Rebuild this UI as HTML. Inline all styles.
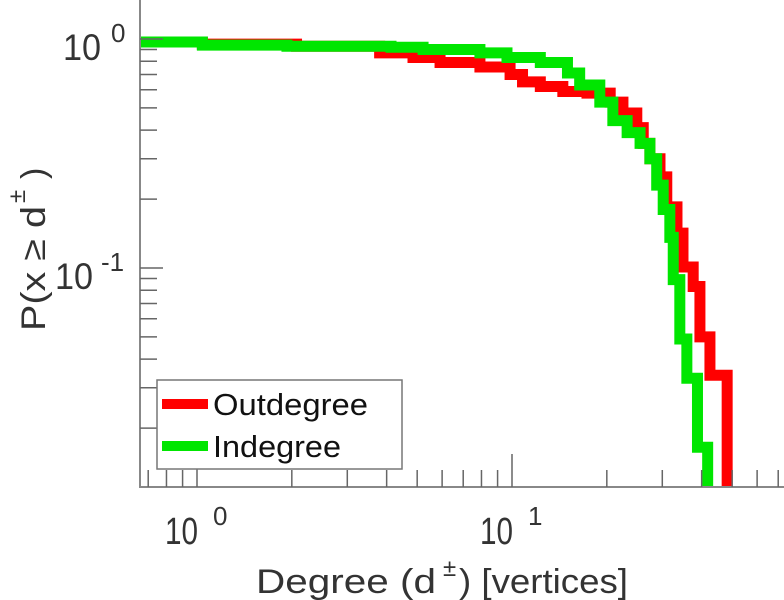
<!DOCTYPE html>
<html><head><meta charset="utf-8"><style>
html,body{margin:0;padding:0;background:#fff;}
svg{display:block;font-family:"Liberation Sans",sans-serif;}
</style></head><body>
<svg id="chart" width="784" height="600" viewBox="0 0 784 600">
<g id="plot"></g>
<g id="axes"></g>
<g id="legend">
  <rect x="157" y="380" width="245" height="89" fill="#fff" stroke="#777" stroke-width="1.5"/>
  <line x1="162" y1="404" x2="208" y2="404" stroke="#ff0000" stroke-width="10"/>
  <text x="213" y="415" font-size="31" textLength="155" lengthAdjust="spacingAndGlyphs" fill="#111">Outdegree</text>
  <line x1="162" y1="446" x2="208" y2="446" stroke="#00e600" stroke-width="10"/>
  <text x="213" y="457" font-size="31" textLength="128" lengthAdjust="spacingAndGlyphs" fill="#111">Indegree</text>
</g>
<g fill="#333">
  <text x="256" y="593" font-size="34" textLength="180" lengthAdjust="spacingAndGlyphs">Degree (d</text>
  <text x="443" y="576" font-size="24">±</text>
  <text x="459" y="593" font-size="34" textLength="169" lengthAdjust="spacingAndGlyphs">) [vertices]</text>
</g>
<g fill="#333" transform="translate(45,331) rotate(-90)">
  <text x="0" y="0" font-size="34" textLength="125" lengthAdjust="spacingAndGlyphs">P(x ≥ d</text>
  <text x="128" y="-20" font-size="24">±</text>
  <text x="152" y="0" font-size="34">)</text>
</g>
</svg>
<script>
// data
const outDegree = [0.66,1.04,2.07,3.8,4.85,5.91,7.91,9.86,10.8,12.3,14.5,17.3,20.5,22.5,24.9,26.1,27.4,29.5,31.0,33.4,34.9,37.6,39.5,42.5,48.2];
const outProb   = [0.97,0.95,0.93,0.87,0.83,0.79,0.755,0.70,0.65,0.62,0.59,0.58,0.53,0.475,0.41,0.35,0.30,0.25,0.185,0.142,0.101,0.083,0.050,0.034,0.005];
const inDegree  = [0.66,1.04,1.93,4.13,5.22,7.91,9.64,12.3,15.0,16.4,19.0,20.9,23.2,25.5,27.4,28.8,30.2,31.7,32.5,34.1,35.9,38.8,41.8];
const inProb    = [0.97,0.94,0.93,0.92,0.90,0.87,0.83,0.79,0.71,0.63,0.53,0.44,0.39,0.35,0.30,0.23,0.18,0.136,0.089,0.049,0.033,0.0165,0.005];
const xMajorTicks = [1,10];
const xMinorTicks = [0.7,0.8,0.9,2,3,4,5,6,7,8,9,20,30,40,50,60,70];
const yMajorTicks = [1,0.1];
const yMinorTicks = [0.9,0.8,0.7,0.6,0.5,0.4,0.3,0.2,0.09,0.08,0.07,0.06,0.05,0.04,0.03,0.02];

const L=140,R=784,T=0,B=487;
const sx = d => 197 + 315*Math.log10(d);
const sy = p => 39 - 229*Math.log10(p);
const NS="http://www.w3.org/2000/svg";
function mk(tag, attrs, parent){const e=document.createElementNS(NS,tag);for(const k in attrs)e.setAttribute(k,attrs[k]);parent.appendChild(e);return e;}

const plot=document.getElementById('plot');
const cp=mk('clipPath',{id:'clip'},plot);
mk('rect',{x:L,y:T,width:R-L,height:B-T},cp);
function stairs(xs,ps){
  let d='M'+sx(xs[0])+','+sy(ps[0]);
  for(let i=1;i<xs.length;i++){d+=' H'+sx(xs[i])+' V'+sy(ps[i]);}
  return d;
}
const red=mk('path',{d:stairs(outDegree,outProb),fill:'none',stroke:'#ff0000','stroke-width':11,'clip-path':'url(#clip)'},plot);


const green=mk('path',{d:stairs(inDegree,inProb),fill:'none',stroke:'#00e600','stroke-width':11,'clip-path':'url(#clip)'},plot);



const axes=document.getElementById('axes');
const ax=mk('path',{d:`M${L},${T} V${B} H${R}`,fill:'none',stroke:'#888','stroke-width':2},axes);


xMinorTicks.forEach(v=>{const t=mk('line',{x1:sx(v),x2:sx(v),y1:B,y2:B-17,stroke:'#666','stroke-width':1.5},axes);

});
xMajorTicks.forEach(v=>{const t=mk('line',{x1:sx(v),x2:sx(v),y1:B,y2:B-33,stroke:'#666','stroke-width':1.5},axes);

});
yMinorTicks.forEach(v=>{const t=mk('line',{x1:L,x2:L+17,y1:sy(v),y2:sy(v),stroke:'#666','stroke-width':1.5},axes);

});
yMajorTicks.forEach(v=>{const t=mk('line',{x1:L,x2:L+23,y1:sy(v),y2:sy(v),stroke:'#666','stroke-width':1.5},axes);

});
// tick labels
xMajorTicks.forEach(v=>{
  const e=Math.round(Math.log10(v)); const x=sx(v);
  const t=mk('text',{x:x-32,y:544,'font-size':38,textLength:33,lengthAdjust:'spacingAndGlyphs',fill:'#333'},axes);
  t.textContent='10';
  
  
  const s=mk('text',{x:x+16,y:525,'font-size':26,fill:'#333'},axes);
  s.textContent=String(e);
  
  
});
yMajorTicks.forEach(v=>{
  const e=Math.round(Math.log10(v)); const y=sy(v);
  const t=mk('text',{x:e<0?55:63,y:y+21,'font-size':37,textLength:38,lengthAdjust:'spacingAndGlyphs',fill:'#333'},axes);
  t.textContent='10';
  
  
  const s=mk('text',{x:e<0?101:111,y:y+3,'font-size':26,fill:'#333'},axes);
  s.textContent=String(e);
  
  
});
</script>
</body></html>
